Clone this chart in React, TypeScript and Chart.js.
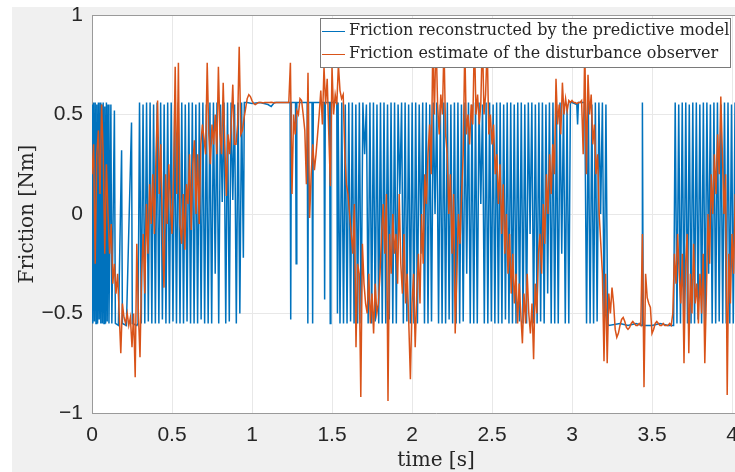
import React, { useEffect, useRef } from 'react';
import { Chart, registerables } from 'chart.js';

Chart.register(...registerables);

const xTicks = [0, 0.5, 1, 1.5, 2, 2.5, 3, 3.5, 4];
const yTicks = [-1, -0.5, 0, 0.5, 1];
const seriesLabels = [
  'Friction reconstructed by the predictive model',
  'Friction estimate of the disturbance observer',
];
const xTitle = 'time [s]';
const yTitle = 'Friction [Nm]';

// Friction reconstructed by the predictive model: [time s, friction Nm]
const bluePoints: [number, number][] = [
  [0, 0.55], [0.005, -0.55], [0.01, 0.56], [0.015, -0.54], [0.02, 0.56], [0.025, -0.55], [0.03, 0.55], [0.035, -0.55],
  [0.04, 0.56], [0.045, -0.53], [0.05, 0.56], [0.055, -0.55], [0.06, 0.55], [0.065, -0.55], [0.07, 0.56], [0.075, -0.55],
  [0.08, 0.54], [0.085, -0.55], [0.09, 0.56], [0.095, -0.54], [0.1, 0.55], [0.106, -0.55],
  [0.118, 0.55], [0.124, -0.55], [0.14, 0.52], [0.146, -0.55], [0.165, -0.56], [0.185, 0.32],
  [0.19, -0.55], [0.215, -0.56], [0.247, 0.46], [0.252, -0.55], [0.28, -0.56], [0.288, -0.55],
  [0.297, 0.56], [0.308, -0.55], [0.319, 0.55], [0.33, -0.55], [0.341, 0.56], [0.352, -0.54], [0.363, 0.56], [0.374, -0.55],
  [0.385, 0.55], [0.396, -0.55], [0.407, 0.56], [0.418, -0.55], [0.429, 0.56], [0.44, -0.53], [0.451, 0.55], [0.462, -0.55],
  [0.473, 0.56], [0.484, -0.55], [0.495, 0.56], [0.506, -0.54], [0.517, 0.55], [0.528, -0.55], [0.539, 0.56], [0.55, -0.55],
  [0.561, 0.56], [0.572, -0.55], [0.583, 0.55], [0.594, -0.54], [0.605, 0.56], [0.616, -0.55], [0.627, 0.56], [0.638, -0.55],
  [0.649, 0.55], [0.66, -0.55], [0.671, 0.56], [0.682, -0.53], [0.693, 0.56], [0.704, -0.55], [0.715, 0.55], [0.726, -0.55],
  [0.737, 0.56], [0.748, -0.55], [0.759, 0.56], [0.77, -0.3], [0.781, 0.56], [0.792, -0.55], [0.803, 0.55], [0.814, 0.06],
  [0.825, 0.56], [0.836, -0.55], [0.847, 0.56], [0.858, -0.54], [0.869, 0.56], [0.88, 0.07], [0.891, 0.55], [0.902, -0.55],
  [0.913, 0.56], [0.924, -0.5], [0.935, 0.56], [0.946, -0.22], [0.952, 0.56],
  [0.97, 0.56], [1.0, 0.555], [1.05, 0.56], [1.1, 0.55], [1.12, 0.54], [1.14, 0.56], [1.2, 0.56], [1.238, 0.56],
  [1.242, -0.53], [1.246, 0.56], [1.272, 0.56], [1.276, -0.25], [1.28, 0.56], [1.345, 0.56], [1.349, -0.55], [1.353, 0.56],
  [1.375, 0.56], [1.379, -0.55], [1.383, 0.56], [1.45, 0.56], [1.454, -0.43], [1.458, 0.56], [1.485, 0.56], [1.489, -0.55],
  [1.493, 0.56], [1.53, 0.56], [1.534, -0.5], [1.538, 0.56], [1.55, -0.55],
  [1.561, 0.56], [1.572, -0.55], [1.583, 0.55], [1.594, -0.55], [1.605, 0.56], [1.616, -0.54], [1.627, 0.56], [1.638, -0.55],
  [1.649, 0.55], [1.66, -0.55], [1.671, 0.56], [1.682, -0.55], [1.693, 0.56], [1.704, 0.3], [1.715, 0.55], [1.726, -0.55],
  [1.737, 0.56], [1.748, -0.55], [1.759, 0.56], [1.77, -0.54], [1.781, 0.55], [1.792, -0.55], [1.803, 0.56], [1.814, -0.55],
  [1.825, 0.56], [1.836, -0.55], [1.847, 0.55], [1.858, -0.53], [1.869, 0.56], [1.88, -0.55], [1.891, 0.56], [1.902, -0.55],
  [1.913, 0.55], [1.924, 0.1], [1.935, 0.56], [1.946, -0.55], [1.957, 0.56], [1.968, -0.54], [1.979, 0.55], [1.99, -0.55],
  [2.001, 0.56], [2.012, -0.55], [2.023, 0.56], [2.034, -0.55], [2.045, 0.55], [2.056, -0.2], [2.067, 0.56], [2.078, -0.55],
  [2.089, 0.56], [2.1, -0.55], [2.111, 0.55], [2.122, -0.54], [2.133, 0.56], [2.144, 0.0], [2.155, 0.56], [2.166, -0.55],
  [2.177, 0.55], [2.188, -0.55], [2.199, 0.56], [2.21, -0.55], [2.221, 0.56], [2.232, -0.53], [2.243, 0.55], [2.254, -0.55],
  [2.265, 0.56], [2.276, -0.55], [2.287, 0.56], [2.298, -0.55], [2.309, 0.55], [2.32, -0.54], [2.331, 0.56], [2.342, -0.3],
  [2.353, 0.56], [2.364, -0.55], [2.375, 0.55], [2.386, -0.55], [2.397, 0.56], [2.408, -0.55], [2.419, 0.56], [2.43, 0.05],
  [2.441, 0.55], [2.452, -0.55], [2.463, 0.56], [2.474, -0.55], [2.485, 0.56], [2.496, -0.54], [2.507, 0.55], [2.518, -0.55],
  [2.529, 0.56], [2.54, -0.55], [2.551, 0.56], [2.562, -0.55], [2.573, 0.55], [2.584, -0.53], [2.595, 0.56], [2.606, -0.55],
  [2.617, 0.56], [2.628, -0.55], [2.639, 0.55], [2.65, -0.55], [2.661, 0.56], [2.672, -0.54], [2.683, 0.56], [2.694, -0.55],
  [2.705, 0.55], [2.716, -0.55], [2.727, 0.56], [2.738, -0.1], [2.749, 0.56], [2.76, -0.55], [2.771, 0.55], [2.782, -0.55],
  [2.793, 0.56], [2.804, -0.54], [2.815, 0.56], [2.826, -0.55], [2.837, 0.55], [2.848, -0.4], [2.859, 0.56], [2.87, -0.55],
  [2.881, 0.56], [2.892, -0.55], [2.903, 0.55], [2.914, -0.55], [2.925, 0.56], [2.936, -0.2], [2.947, 0.56], [2.958, -0.55],
  [2.969, 0.55], [2.98, -0.55], [2.99, 0.56], [3.0, 0.56], [3.03, 0.55], [3.035, 0.45], [3.04, 0.56], [3.08, 0.56],
  [3.091, -0.55], [3.102, 0.56], [3.113, -0.55], [3.124, 0.55], [3.135, -0.55], [3.146, 0.56], [3.157, -0.54], [3.168, 0.56],
  [3.179, 0.0], [3.19, 0.56], [3.201, -0.55], [3.212, 0.55], [3.223, -0.55], [3.23, -0.56],
  [3.3, -0.55], [3.35, -0.56], [3.4, -0.55], [3.438, -0.56], [3.44, 0.56], [3.445, -0.56], [3.5, -0.56], [3.55, -0.55],
  [3.6, -0.56], [3.635, -0.56],
  [3.645, 0.56], [3.656, -0.55], [3.667, 0.55], [3.678, -0.55], [3.689, 0.56], [3.7, -0.54], [3.711, 0.56], [3.722, -0.55],
  [3.733, 0.55], [3.744, -0.55], [3.755, 0.56], [3.766, -0.55], [3.777, 0.56], [3.788, -0.53], [3.799, 0.55], [3.81, -0.55],
  [3.821, 0.56], [3.832, -0.55], [3.843, 0.56], [3.854, -0.3], [3.865, 0.55], [3.876, -0.55], [3.887, 0.56], [3.898, -0.55],
  [3.909, 0.56], [3.92, -0.54], [3.931, 0.55], [3.942, -0.55], [3.953, 0.56], [3.964, -0.55], [3.975, 0.56], [3.986, -0.55],
  [3.997, 0.55], [4.008, -0.55], [4.019, 0.56], [4.03, -0.55],
];

// Friction estimate of the disturbance observer, sampled every 0.01 s from t = 0
const orangeStep = 0.01;
const orangeValues = [
  0.2, 0.35, -0.25, 0.3, 0.42, 0.1, 0.55, 0.3, -0.2, 0.25,
  0.0, -0.2, -0.05, -0.35, -0.25, -0.4, -0.3, -0.5, -0.7, -0.45,
  -0.52, -0.55, -0.5, -0.56, -0.52, -0.67, -0.5, -0.82, -0.15, -0.5,
  -0.72, -0.3, -0.1, -0.4, 0.05, -0.2, 0.15, -0.05, 0.2, -0.1,
  0.3, 0.57, 0.1, 0.35, -0.1, -0.37, 0.2, -0.05, 0.25, 0.05,
  -0.1, 0.2, 0.74, 0.1, 0.76, -0.05, -0.15, 0.1, -0.18, 0.15,
  0.05, 0.3, -0.08, 0.25, 0.37, 0.0, 0.3, -0.05, 0.35, 0.45,
  0.38, 0.3, 0.76, 0.4, 0.25, 0.45, 0.35, 0.5, 0.3, 0.74,
  0.4, 0.3, 0.66, 0.35, 0.09, 0.4, 0.3, 0.45, 0.65, 0.35,
  0.35, 0.45, 0.84, 0.4, 0.42, 0.48, 0.53, 0.58, 0.6, 0.59,
  0.57, 0.555, 0.55, 0.555, 0.56, 0.56, 0.56, 0.558, 0.56, 0.56,
  0.56, 0.56, 0.562, 0.56, 0.558, 0.56, 0.56, 0.56, 0.56, 0.56,
  0.56, 0.56, 0.56, 0.56, 0.76, 0.1, 0.5, 0.4, 0.52, 0.5,
  0.58, 0.57, 0.5, 0.42, 0.15, 0.71, -0.02, 0.2, 0.35, 0.22,
  0.3, 0.4, 0.5, 0.62, 0.45, 0.74, 0.55, 0.68, 0.4, 0.14,
  0.74, 0.5, 0.6, 0.55, 0.75, 0.62, 0.58, 0.6, 0.3, 0.15,
  0.1, 0.0, -0.1, -0.2, 0.05, -0.67, -0.25, -0.3, -0.92, -0.15,
  -0.35, -0.45, -0.5, -0.3, -0.55, -0.4, -0.6, -0.35, -0.5, -0.45,
  -0.3, -0.1, 0.05, -0.2, 0.1, -0.94, -0.1, -0.3, 0.0, -0.2,
  -0.1, -0.35, 0.1, -0.25, -0.4, -0.1, -0.45, -0.3, -0.55, -0.83,
  -0.45, -0.3, -0.67, -0.4, -0.2, -0.45, 0.0, -0.25, 0.2, 0.05,
  0.3, 0.45, 0.2, 0.85, 0.5, 0.9, 0.55, 0.4, 0.6, 0.5,
  0.85, 0.4, 0.3, 0.0, 0.2, -0.2, 0.1, -0.6, -0.3, 0.0,
  -0.15, 0.1, 0.3, 0.85, 0.4, 0.5, 0.35, 0.55, 0.45, 0.9,
  0.5, 0.6, 0.45, 0.55, 0.9, 0.5, 0.6, 0.85, 0.4, 0.5,
  0.35, 0.45, 0.2, 0.3, 0.05, 0.25, -0.1, 0.15, -0.2, 0.0,
  -0.3, -0.1, -0.4, -0.2, -0.45, -0.3, -0.55, -0.35, -0.5, -0.65,
  -0.4, -0.55, -0.3, -0.5, -0.6, -0.45, -0.73, -0.35, -0.5, -0.2,
  -0.1, -0.3, 0.05, -0.15, 0.2, 0.0, 0.3, 0.1, 0.35, 0.2,
  0.68, 0.45, 0.55, 0.4, 0.66, 0.5, 0.58, 0.52, 0.57, 0.56,
  0.57, 0.56, 0.56, 0.555, 0.56, 0.56, 0.57, 0.3, 0.85, 0.2,
  0.7, 0.5, 0.6, 0.35, 0.45, 0.2, 0.3, 0.0, -0.15, -0.3,
  -0.74, -0.3, -0.75, -0.4, -0.5, -0.37, -0.45, -0.58, -0.62, -0.6,
  -0.56, -0.53, -0.52, -0.54, -0.57, -0.58, -0.57, -0.55, -0.54, -0.55,
  -0.56, -0.56, -0.55, -0.56, -0.1, -0.87, -0.3, -0.42, -0.45, -0.47,
  -0.6, -0.58, -0.55, -0.54, -0.55, -0.56, -0.56, -0.55, -0.56, -0.56,
  -0.56, -0.55, -0.56, -0.5, -0.2, -0.35, -0.1, -0.3, -0.45, -0.2,
  -0.75, -0.25, -0.1, -0.7, -0.3, -0.5, -0.15, -0.45, -0.35, -0.55,
  -0.3, -0.5, -0.2, -0.75, -0.4, 0.0, -0.25, 0.2, 0.0, 0.3,
  0.1, 0.4, 0.2, 0.59, 0.3, 0.0, 0.2, -0.91, -0.2, -0.45,
  -0.1, -0.3, 0.1,
];

const colors = ['#0072BD', '#D95319'];
const CANVAS_W = 780;
const CANVAS_H = 472;

const fmtTick = (v: number) => (v < 0 ? '\u2212' + String(Math.abs(v)) : String(v));

const bgPlugin = {
  id: 'bg',
  beforeDraw(chart: any) {
    const { ctx, chartArea } = chart;
    ctx.save();
    ctx.fillStyle = '#ffffff';
    ctx.fillRect(0, 0, CANVAS_W, CANVAS_H);
    ctx.fillStyle = '#f0f0f0';
    ctx.fillRect(12, 7, CANVAS_W - 12, CANVAS_H - 7);
    ctx.fillStyle = '#ffffff';
    ctx.fillRect(chartArea.left, chartArea.top, chartArea.right - chartArea.left, chartArea.bottom - chartArea.top);
    ctx.restore();
  },
};

const legendPlugin = {
  id: 'matlabLegend',
  afterDraw(chart: any) {
    const { ctx, chartArea } = chart;
    ctx.save();
    ctx.strokeStyle = '#9a9a9a';
    ctx.lineWidth = 1;
    ctx.beginPath();
    ctx.moveTo(chartArea.left, chartArea.top + 0.5);
    ctx.lineTo(chartArea.right, chartArea.top + 0.5);
    ctx.stroke();
    const bx = 320.5, by = 18.5, bw = 410, bh = 49;
    ctx.fillStyle = '#ffffff';
    ctx.fillRect(bx, by, bw, bh);
    ctx.strokeStyle = '#7a7a7a';
    ctx.strokeRect(bx, by, bw, bh);
    ctx.font = '16px "DejaVu Serif"';
    ctx.textBaseline = 'middle';
    ctx.textAlign = 'left';
    const rows = [31, 54];
    chart.data.datasets.forEach((ds: any, i: number) => {
      const y = rows[i];
      ctx.strokeStyle = ds.borderColor;
      ctx.lineWidth = 1;
      ctx.beginPath();
      ctx.moveTo(322, y + 0.5);
      ctx.lineTo(345, y + 0.5);
      ctx.stroke();
      ctx.fillStyle = '#262626';
      ctx.fillText(ds.label, 349, y);
    });
    ctx.restore();
  },
};

export default function App() {
  const ref = useRef<HTMLCanvasElement | null>(null);
  useEffect(() => {
    if (!ref.current) return;
    const chart = new Chart(ref.current, {
      type: 'line',
      data: {
        datasets: [
          {
            label: seriesLabels[0],
            data: bluePoints.map(([x, y]) => ({ x, y })),
            borderColor: colors[0],
            borderWidth: 1.5,
            pointRadius: 0,
            tension: 0,
            order: 2,
          },
          {
            label: seriesLabels[1],
            data: orangeValues.map((y, i) => ({ x: Math.round(i * orangeStep * 100) / 100, y })),
            borderColor: colors[1],
            borderWidth: 1.5,
            pointRadius: 0,
            tension: 0,
            order: 1,
          },
        ],
      },
      options: {
        animation: false,
        responsive: false,
        layout: { padding: { top: 15, left: 0, right: 0, bottom: 0 } },
        plugins: { legend: { display: false }, tooltip: { enabled: false } },
        scales: {
          x: {
            type: 'linear',
            min: 0,
            max: 4.3,
            afterBuildTicks: (s: any) => {
              s.ticks = xTicks.map((v) => ({ value: v }));
            },
            afterFit: (s: any) => {
              s.height = 59;
            },
            grid: { color: '#e8e8e8', drawTicks: false },
            border: { color: '#9a9a9a', width: 1 },
            ticks: {
              padding: 10,
              autoSkip: false,
              maxRotation: 0,
              color: '#262626',
              font: { family: '"Liberation Sans"', size: 21 },
              callback: (v: any) => fmtTick(Number(v)),
            },
            title: {
              display: true,
              text: xTitle,
              color: '#262626',
              font: { family: '"DejaVu Serif"', size: 20, lineHeight: 1 },
              padding: { top: 0, bottom: 1 },
            },
          },
          y: {
            type: 'linear',
            min: -1,
            max: 1,
            afterBuildTicks: (s: any) => {
              s.ticks = yTicks.map((v) => ({ value: v }));
            },
            afterFit: (s: any) => {
              s.width = 92;
            },
            grid: { color: '#e8e8e8', drawTicks: true, tickLength: 9, tickColor: 'rgba(0,0,0,0)' },
            border: { color: '#9a9a9a', width: 1 },
            ticks: {
              padding: 0,
              color: '#262626',
              font: { family: '"Liberation Sans"', size: 21 },
              callback: (v: any) => fmtTick(Number(v)),
            },
            title: {
              display: true,
              text: yTitle,
              color: '#262626',
              font: { family: '"DejaVu Serif"', size: 20, lineHeight: 1 },
              padding: { top: 18, bottom: 0 },
            },
          },
        },
      },
      plugins: [bgPlugin, legendPlugin],
    } as any);
    return () => chart.destroy();
  }, []);

  return (
    <div style={{ position: 'absolute', left: 0, top: 0, width: 735, height: 472, overflow: 'hidden', background: '#fff' }}>
      <canvas ref={ref} width={CANVAS_W} height={CANVAS_H} style={{ display: 'block' }} />
    </div>
  );
}
